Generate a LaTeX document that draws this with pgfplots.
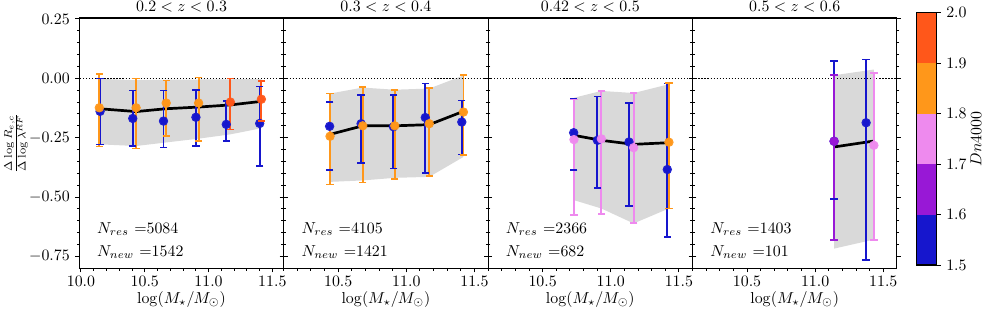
\documentclass[border=0pt]{standalone}
\usepackage{pgfplots}
\usepackage{pgfplotstable}
\pgfplotsset{compat=1.18}
\definecolor{cb1}{RGB}{22,22,205}
\definecolor{cb2}{RGB}{152,24,214}
\definecolor{cb3}{RGB}{238,138,238}
\definecolor{cb4}{RGB}{255,151,26}
\definecolor{cb5}{RGB}{255,87,26}
\definecolor{band}{RGB}{217,217,217}
% ---- data: x, marker y, error above (ep), error below (em)
\pgfplotstableread{
x y ep em
10.150 -0.139 0.139 0.139
10.406 -0.169 0.117 0.116
10.647 -0.180 0.128 0.112
10.901 -0.164 0.115 0.120
11.139 -0.194 0.098 0.071
11.401 -0.190 0.156 0.178
}\dAb
\pgfplotstableread{
x y ep em
10.144 -0.124 0.141 0.163
10.432 -0.124 0.124 0.172
10.668 -0.104 0.094 0.139
10.922 -0.104 0.107 0.160
}\dAo
\pgfplotstableread{
x y ep em
11.171 -0.100 0.100 0.115
11.414 -0.088 0.077 0.092
}\dAr
\pgfplotstableread{
x y ep em
10.437 -0.202 0.102 0.185
10.668 -0.191 0.122 0.165
10.905 -0.204 0.135 0.176
11.139 -0.165 0.143 0.233
11.407 -0.184 0.091 0.137
}\dBb
\pgfplotstableread{
x y ep em
10.440 -0.244 0.180 0.203
10.680 -0.200 0.164 0.239
10.915 -0.200 0.152 0.225
11.168 -0.191 0.150 0.220
11.419 -0.142 0.157 0.182
}\dBo
\pgfplotstableread{
x y ep em
10.728 -0.229 0.143 0.158
10.902 -0.261 0.185 0.200
11.134 -0.268 0.164 0.270
11.415 -0.384 0.362 0.284
}\dCb
\pgfplotstableread{
x y ep em
10.730 -0.258 0.168 0.318
10.931 -0.255 0.202 0.317
11.168 -0.292 0.230 0.317
}\dCv
\pgfplotstableread{
x y ep em
11.427 -0.269 0.249 0.279
}\dCo
\pgfplotstableread{
x y ep em
11.139 -0.265 0.338 0.244
11.374 -0.187 0.266 0.579
}\dDb
\pgfplotstableread{
x y ep em
11.139 -0.265 0.278 0.416
}\dDp
\pgfplotstableread{
x y ep em
11.431 -0.282 0.304 0.399
}\dDv
\pgfplotsset{
  panel/.style={
    scale only axis, width=128.77pt, height=157.69pt,
    anchor=south west,
    ymin=-0.8, ymax=0.254,
    xmin=10.1, xmax=11.6,
    ytick={-0.75,-0.5,-0.25,0,0.25},
    xtick={10,10.5,11,11.5},
    minor y tick num=4, minor x tick num=4,
    tick align=outside,
    major tick length=2.5pt, minor tick length=1.4pt,
    xtick pos=lower, ytick pos=both,
    yticklabels={},
    axis line style={line width=0.7pt},
    every tick/.style={line width=0.6pt, black},
    x tick label style={yshift=1pt, /pgf/number format/.cd, fixed, fixed zerofill, precision=1},
    xlabel={$\log(M_\star/M_\odot)$},
    every axis x label/.style={at={(axis description cs:0.5,0)}, anchor=base, yshift=-22pt},
    every axis title/.style={at={(axis description cs:0.5,1)}, anchor=base, yshift=3.8pt},
  },
  med/.style={black, line width=1.7pt, no marks},
  zline/.style={black, line width=0.7pt, dash pattern=on 0.7pt off 1.2pt, no marks},
  bandfill/.style={fill=band, draw=none},
}
\newcommand{\ebs}[2]{%
\addplot[only marks, mark=none, color=#1,
  error bars/y dir=both, error bars/y explicit, error bars/error mark=none,
  error bars/error bar style={draw=#1, solid, line width=1.15pt}]
  table[x=x, y=y, y error plus=ep, y error minus=em]{#2};
\addplot[only marks, mark=-, mark size=2.3pt, color=#1, mark options={solid, draw=#1, line width=1.0pt}]
  table[x=x, y expr=\thisrow{y}+\thisrow{ep}]{#2};
\addplot[only marks, mark=-, mark size=2.3pt, color=#1, mark options={solid, draw=#1, line width=1.0pt}]
  table[x=x, y expr=\thisrow{y}-\thisrow{em}]{#2};
\addplot[only marks, mark=*, mark size=2.7pt, color=#1,
  mark options={solid, fill=#1, draw=#1, fill opacity=0.85, draw opacity=0.9, line width=0.5pt}]
  table[x=x, y=y]{#2};
}
\begin{document}
\begin{tikzpicture}
\useasboundingbox (0,0) rectangle (628.11pt,-199.08pt);
% ---------------- Panel 1
\begin{axis}[panel, at={(49.96pt,-169.03pt)}, xmin=9.987, xmax=11.589,
  yticklabels={$-0.75$,$-0.50$,$-0.25$,$0.00$,$0.25$},
  title={$0.2 < z < 0.3$},
  every axis y label/.style={at={(axis description cs:-0.31,0.5)}, rotate=90, anchor=center},
  ylabel={$\frac{\Delta \log R_{e,c}}{\Delta \log \lambda^{RF}}$}]
\addplot[bandfill] coordinates {(10.144,-0.002)(10.432,-0.008)(10.668,-0.006)(10.922,-0.005)(11.171,-0.004)(11.414,-0.003)
  (11.414,-0.210)(11.171,-0.236)(10.922,-0.254)(10.668,-0.270)(10.432,-0.285)(10.144,-0.278)} -- cycle;
\addplot[zline] coordinates {(9.9,0)(11.7,0)};
\addplot[med] coordinates {(10.144,-0.128)(10.432,-0.140)(10.668,-0.128)(10.922,-0.121)(11.171,-0.112)(11.414,-0.097)};
\ebs{cb1}{\dAb}
\ebs{cb4}{\dAo}
\ebs{cb5}{\dAr}
\node[anchor=base west] at (rel axis cs:0.06,0.141) {$N_{res}$ =5084};
\node[anchor=base west] at (rel axis cs:0.06,0.049) {$N_{new}$ =1542};
\end{axis}
% ---------------- Panel 2
\begin{axis}[panel, at={(178.73pt,-169.03pt)}, title={$0.3 < z < 0.4$}]
\addplot[bandfill] coordinates {(10.44,-0.064)(10.68,-0.039)(10.915,-0.048)(11.168,-0.043)(11.419,0.012)
  (11.419,-0.331)(11.168,-0.415)(10.915,-0.419)(10.68,-0.430)(10.44,-0.436)} -- cycle;
\addplot[zline] coordinates {(9.9,0)(11.7,0)};
\addplot[med] coordinates {(10.44,-0.236)(10.68,-0.200)(10.915,-0.200)(11.168,-0.195)(11.419,-0.139)};
\ebs{cb1}{\dBb}
\ebs{cb4}{\dBo}
\node[anchor=base west] at (rel axis cs:0.06,0.141) {$N_{res}$ =4105};
\node[anchor=base west] at (rel axis cs:0.06,0.049) {$N_{new}$ =1421};
\end{axis}
% ---------------- Panel 3
\begin{axis}[panel, at={(307.50pt,-169.03pt)}, title={$0.42 < z < 0.5$}]
\addplot[bandfill] coordinates {(10.73,-0.082)(10.931,-0.053)(11.168,-0.062)(11.427,-0.025)
  (11.427,-0.548)(11.168,-0.611)(10.931,-0.548)(10.73,-0.513)} -- cycle;
\addplot[zline] coordinates {(9.9,0)(11.7,0)};
\addplot[med] coordinates {(10.73,-0.240)(10.931,-0.261)(11.168,-0.278)(11.427,-0.271)};
\ebs{cb1}{\dCb}
\ebs{cb3}{\dCv}
\ebs{cb4}{\dCo}
\node[anchor=base west] at (rel axis cs:0.06,0.141) {$N_{res}$ =2366};
\node[anchor=base west] at (rel axis cs:0.06,0.049) {$N_{new}$ =682};
\end{axis}
% ---------------- Panel 4
\begin{axis}[panel, at={(436.28pt,-169.03pt)}, title={$0.5 < z < 0.6$}]
\addplot[bandfill] coordinates {(11.139,0.013)(11.431,0.037)(11.431,-0.679)(11.139,-0.717)} -- cycle;
\addplot[zline] coordinates {(9.9,0)(11.7,0)};
\addplot[med] coordinates {(11.139,-0.289)(11.431,-0.264)};
\ebs{cb1}{\dDb}
\ebs{cb2}{\dDp}
\ebs{cb3}{\dDv}
\node[anchor=base west] at (rel axis cs:0.06,0.141) {$N_{res}$ =1403};
\node[anchor=base west] at (rel axis cs:0.06,0.049) {$N_{new}$ =101};
\end{axis}
% ---------------- Colorbar
\begin{axis}[at={(577.52pt,-166.95pt)}, anchor=south west, scale only axis,
  width=12.6pt, height=158.95pt, xmin=0, xmax=1, ymin=1.5, ymax=2.0,
  xtick=\empty, ytick={1.5,1.6,1.7,1.8,1.9,2.0},
  yticklabels={$1.5$,$1.6$,$1.7$,$1.8$,$1.9$,$2.0$},
  ytick pos=right, yticklabel pos=right, tick align=outside,
  major tick length=2.5pt, axis on top,
  axis line style={line width=0.7pt},
  every tick/.style={line width=0.6pt, black},
  every axis y label/.style={at={(axis description cs:2.965,0.5)}, rotate=90, anchor=center},
  ylabel={$Dn4000$}]
\addplot[fill=cb1, draw=none] coordinates {(0,1.5)(1,1.5)(1,1.6)(0,1.6)} -- cycle;
\addplot[fill=cb2, draw=none] coordinates {(0,1.6)(1,1.6)(1,1.7)(0,1.7)} -- cycle;
\addplot[fill=cb3, draw=none] coordinates {(0,1.7)(1,1.7)(1,1.8)(0,1.8)} -- cycle;
\addplot[fill=cb4, draw=none] coordinates {(0,1.8)(1,1.8)(1,1.9)(0,1.9)} -- cycle;
\addplot[fill=cb5, draw=none] coordinates {(0,1.9)(1,1.9)(1,2.0)(0,2.0)} -- cycle;
\end{axis}
\end{tikzpicture}
\end{document}
